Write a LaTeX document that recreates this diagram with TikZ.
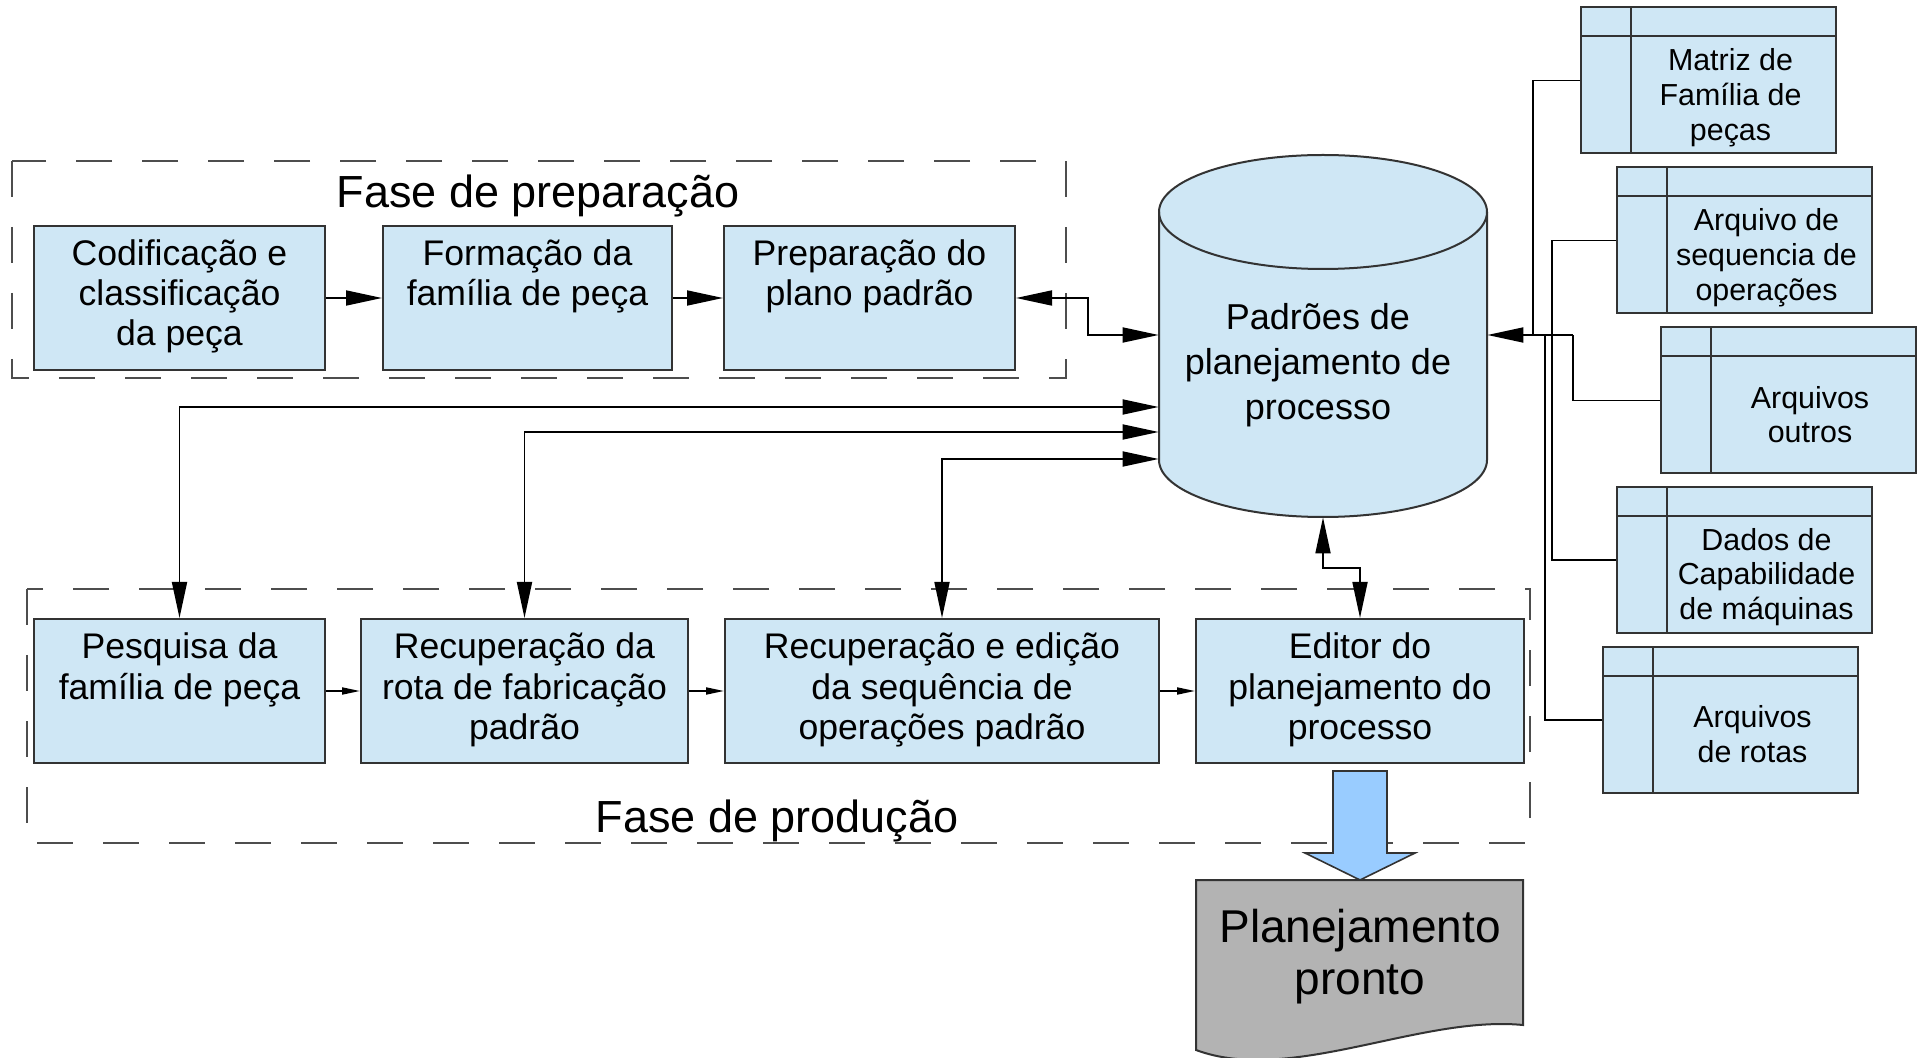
\documentclass[tikz,border=0pt]{standalone}
\usepackage{fontspec}
\setmainfont{Liberation Sans}
\usetikzlibrary{arrows.meta,calc}
\definecolor{boxfill}{HTML}{CFE7F5}
\definecolor{bordc}{HTML}{333333}
\definecolor{dashc}{HTML}{4D4D4D}
\definecolor{arrfill}{HTML}{99CCFF}
\definecolor{docfill}{HTML}{B3B3B3}
\newcommand\threel[3]{\strut #1\\\strut #2\\\strut #3}
\begin{document}
\begin{tikzpicture}[x=0.5pt,y=-0.5pt,
  box/.style={draw=bordc, line width=1pt, fill=boxfill, align=center, inner sep=0pt,
    font=\fontsize{17.8}{20}\selectfont, minimum height=72pt},
  tab/.style={draw=bordc, line width=1pt, fill=boxfill, inner sep=0pt,
    minimum width=127.5pt, minimum height=73pt,
    path picture={
      \draw[bordc, line width=1pt] ([yshift=-14.5pt]path picture bounding box.north west) -- ([yshift=-14.5pt]path picture bounding box.north east);
      \draw[bordc, line width=1pt] ([xshift=25pt]path picture bounding box.north west) -- ([xshift=25pt]path picture bounding box.south west);
    }},
  tabtxt/.style={align=center, inner sep=0pt, xshift=11pt, yshift=-9pt,
    font=\fontsize{15.2}{17.3}\selectfont},
  phase/.style={draw=dashc, line width=1.3pt, dash pattern=on 18pt off 15pt},
  phasetxt/.style={font=\fontsize{22.5}{26}\selectfont, inner sep=0pt},
  conn/.style={draw=black, line width=0.9pt},
  bigtip/.style={conn, {Triangle[length=18pt,width=7.5pt]}-{Triangle[length=18pt,width=7.5pt]}},
  onetip/.style={conn, -{Triangle[length=18pt,width=7.5pt]}},
  smalltip/.style={conn, -{Triangle[length=9pt,width=3.5pt]}},
]
\useasboundingbox[fill=white] (0,0) rectangle (1917,1058);

% phase frames
\draw[phase] (12,161) rectangle (1066,378);
\draw[phase] (27,589) rectangle (1530,843);
\node[phasetxt] (fprep) at (538,196) {Fase de preparação};
\node[phasetxt] (fprod) at (777,821) {Fase de produção};

% preparation boxes
\node[box, minimum width=145.5pt] (c1) at (179.5,298) {\threel{Codificação e}{classificação}{da peça}};
\node[box, minimum width=144.5pt] (c2) at (527.5,298) {\threel{Formação da}{família de peça}{}};
\node[box, minimum width=145.5pt] (c3) at (869.5,298) {\threel{Preparação do}{plano padrão}{}};

% production boxes
\node[box, minimum width=145.5pt] (p1) at (179.5,691) {\threel{Pesquisa da}{família de peça}{}};
\node[box, minimum width=163.5pt] (p2) at (524.5,691) {\threel{Recuperação da}{rota de fabricação}{padrão}};
\node[box, minimum width=217pt] (p3) at (942,691) {\threel{Recuperação e edição}{da sequência de}{operações padrão}};
\node[box, minimum width=164pt] (p4) at (1360,691) {\threel{Editor do}{planejamento do}{processo}};

% cylinder
\path[fill=boxfill, draw=bordc, line width=1pt] (1159,212) -- (1159,460)
  arc[start angle=180, end angle=360, x radius=82pt, y radius=28.5pt]
  -- (1487,212) arc[start angle=0, end angle=180, x radius=82pt, y radius=28.5pt] -- cycle;
\draw[bordc, line width=1pt] (1159,212) arc[start angle=180, end angle=360, x radius=82pt, y radius=28.5pt];
\node[inner sep=0pt, minimum width=164pt, minimum height=181pt] (cyl) at (1323,336) {};
\node[align=center, inner sep=0pt, font=\fontsize{18}{22.5}\selectfont] (cyltxt) at (1318,366)
  {\threel{Padrões de}{planejamento de}{processo}};

% tables
\node[tab] (t1) at (1708.5,80.5) [label={[tabtxt]center:\threel{Matriz de}{Família de}{peças}}] {};
\node[tab] (t2) at (1744.5,240.5) [label={[tabtxt]center:\threel{Arquivo de}{sequencia de}{operações}}] {};
\node[tab] (t3) at (1788,400.5) [label={[tabtxt]center:{\strut Arquivos\\\strut outros}}] {};
\node[tab] (t4) at (1744.5,560) [label={[tabtxt]center:\threel{Dados de}{Capabilidade}{de máquinas}}] {};
\node[tab] (t5) at (1730.5,720) [label={[tabtxt]center:{\strut Arquivos\\\strut de rotas}}] {};

% result document
\path[fill=docfill, draw=bordc, line width=1pt] (1196,880) -- (1523,880) -- (1523,1025)
  .. controls (1420,1015) and (1290,1085) .. (1196,1050) -- cycle;
\node[align=center, inner sep=0pt, font=\fontsize{23}{26}\selectfont] (doc) at (1360,958)
  {\strut Planejamento\\\strut pronto};

% big arrow
\path[fill=arrfill, draw=bordc, line width=0.8pt] (1333,771) -- (1387,771) -- (1387,853) -- (1415,853)
  -- (1360,880) -- (1305,853) -- (1333,853) -- cycle;

% connectors in preparation row
\draw[onetip] (c1.east) -- (c2.west);
\draw[onetip] (c2.east) -- (c3.west);
\draw[bigtip] (c3.east) -- ++(72,0) |- (cyl.west |- 0,335);

% connectors from production to cylinder
\draw[bigtip] (p1.north) |- (cyl.west |- 0,407);
\draw[bigtip] (p2.north) |- (cyl.west |- 0,432);
\draw[bigtip] (p3.north) |- (cyl.west |- 0,459);
\draw[bigtip] (cyl.south) -- ++(0,51) -| (p4.north);

% production chain
\draw[smalltip] (p1.east) -- (p2.west);
\draw[smalltip] (p2.east) -- (p3.west);
\draw[smalltip] (p3.east) -- (p4.west);

% tables to cylinder
\coordinate (J) at (1573,335);
\draw[conn] (t1.west) -| (1533,335);
\draw[conn] (t2.west) -| (1552,335);
\draw[conn] (t4.west) -| (1552,335);
\draw[conn] (t5.west) -| (1545,335);
\draw[conn] (t3.west) -| (J);
\draw[onetip] (J) -- (cyl.east |- J);
\end{tikzpicture}
\end{document}
